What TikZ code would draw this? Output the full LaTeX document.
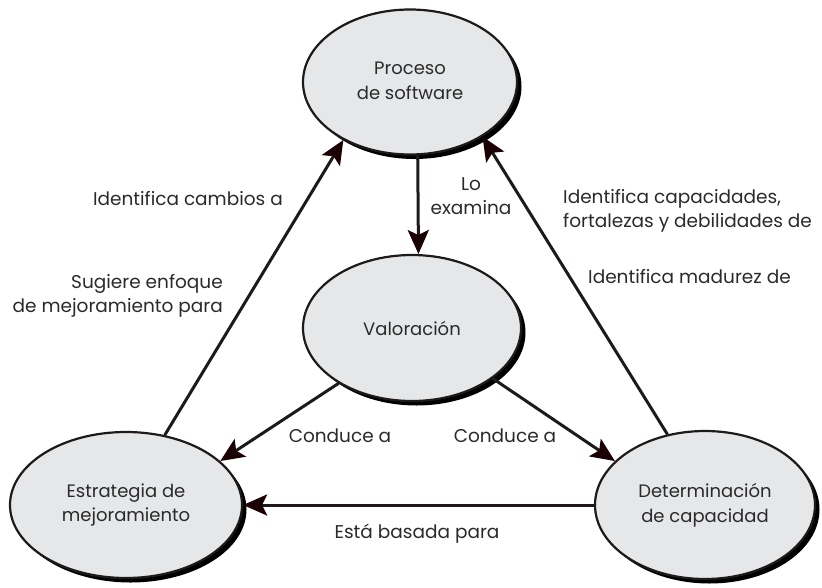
\documentclass[tikz,border=0pt]{standalone}
\usepackage{fontspec}
\setmainfont{Poppins}
\usetikzlibrary{arrows.meta,shapes.geometric,shadows}
\definecolor{ellfill}{HTML}{E6E7E9}
\definecolor{txt}{HTML}{2A2A2A}
\definecolor{linecol}{HTML}{1E1A1A}
\definecolor{headcol}{HTML}{1A0004}
\begin{document}
\begin{tikzpicture}[x=1pt,y=-1pt,
  bubble/.style={ellipse, draw=linecol, line width=2.2pt, fill=ellfill, inner sep=0pt,
    align=center, text=txt, font=\fontsize{18}{24.5}\selectfont,
    drop shadow={shadow xshift=4.5pt, shadow yshift=-4.5pt, fill=black, opacity=1}},
  conn/.style={draw=linecol, line width=3pt,
    -{Stealth[length=24pt,width=21pt,inset=5pt,color=headcol]}},
  lbl/.style={text=txt, font=\fontsize{18.5}{24}\selectfont, inner sep=0pt}]
\useasboundingbox (0,0) rectangle (822,587);
\node[bubble, minimum width=214pt, minimum height=145pt] (top) at (410,82)
  {\raisebox{-5pt}{\begin{tabular}{@{}c@{}}Proceso\\de software\end{tabular}}};
\node[bubble, minimum width=218pt, minimum height=146pt] (mid) at (412,328) {\raisebox{-2pt}{Valoración}};
\node[bubble, minimum width=232pt, minimum height=146pt] (bl) at (126,505) {Estrategia de\\mejoramiento};
\node[bubble, minimum width=220pt, minimum height=148pt] (br) at (705,505) {Determinación\\de capacidad};

\draw[conn] (top.-84) -- (mid.85);
\draw[conn] (bl.61) -- (top.221);
\draw[conn] (br.118) -- (top.323);
\draw[conn] (mid.217) -- (bl.25);
\draw[conn] (mid.-32) -- (br.154);
\draw[conn] (br.180) -- (bl.0);

\node[lbl, anchor=east] (l1) at (283,199) {Identifica cambios a};
\node[lbl, align=right, anchor=east] (l2) at (223,296) {Sugiere enfoque\\de mejoramiento para};
\node[lbl, align=center] (l3) at (471,196) {Lo\\examina};
\node[lbl, align=left, anchor=west] (l4) at (563,211) {Identifica capacidades,\\fortalezas y debilidades de};
\node[lbl, anchor=west] (l5) at (588,277) {Identifica madurez de};
\node[lbl] (l6) at (340,436) {Conduce a};
\node[lbl] (l7) at (505,436) {Conduce a};
\node[lbl] (l8) at (417,534) {Está basada para};
\end{tikzpicture}
\end{document}
